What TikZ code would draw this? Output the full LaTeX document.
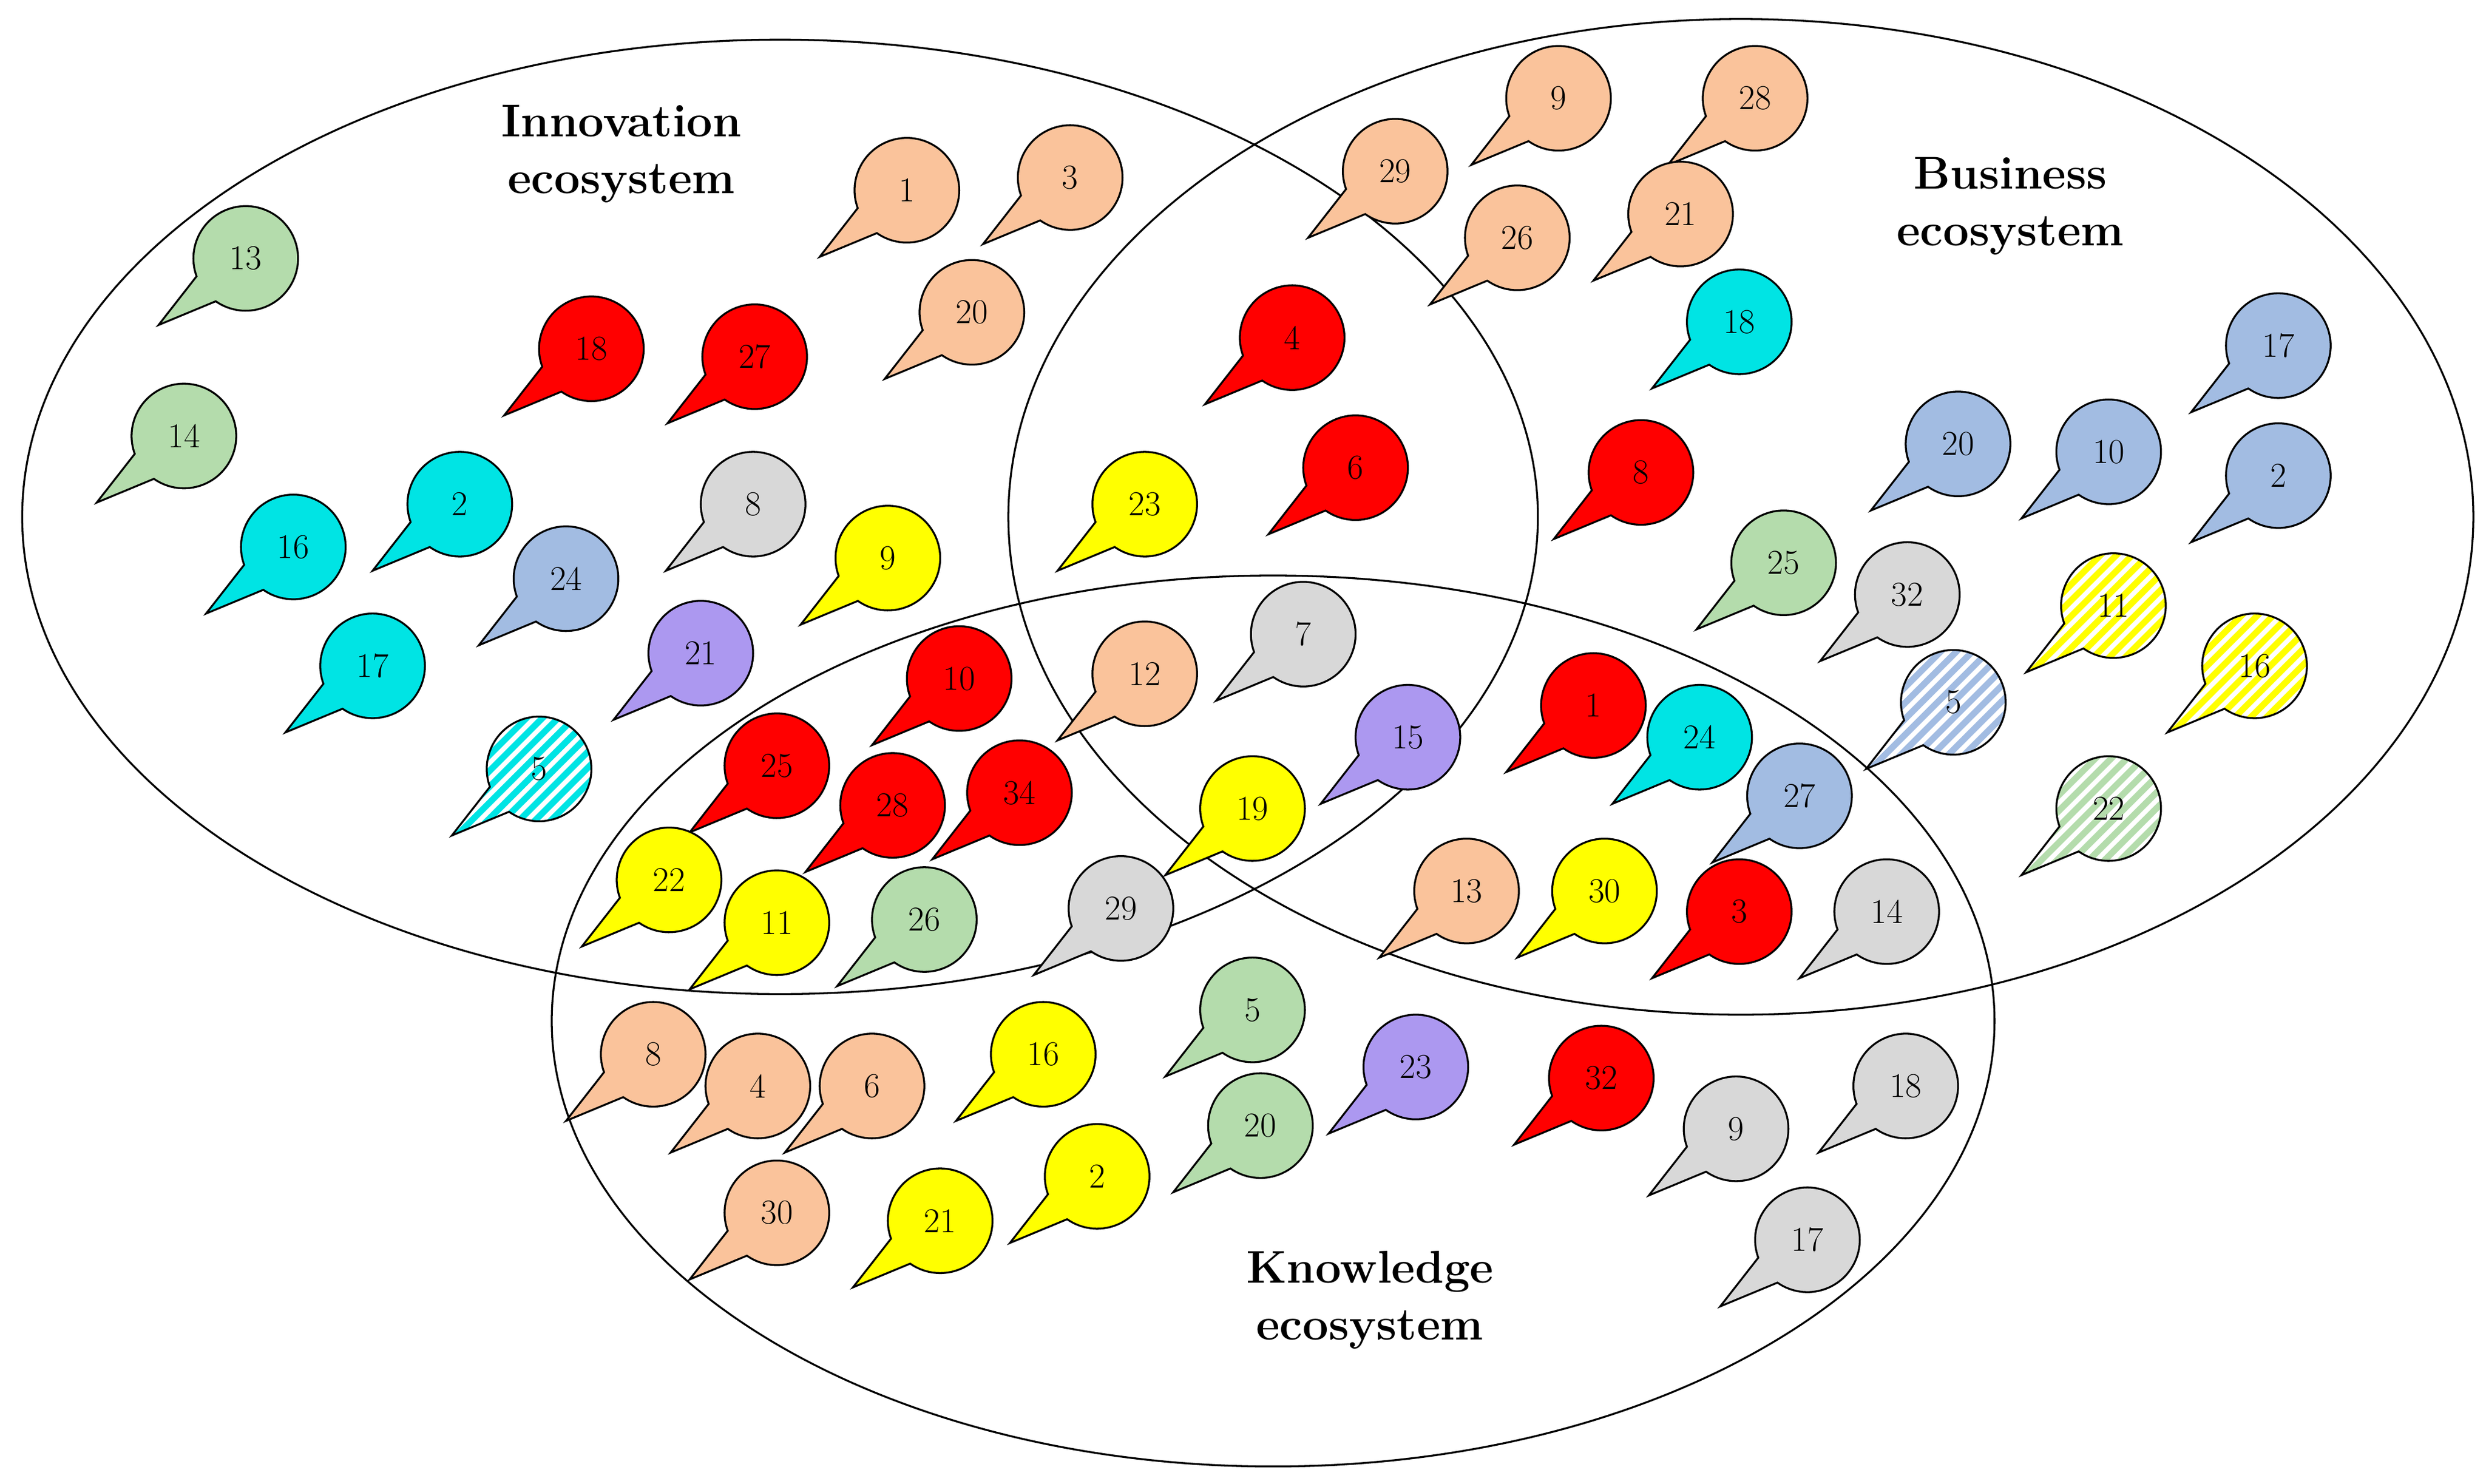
\documentclass[tikz,border=0pt]{standalone}
\begin{document}
\definecolor{cpe}{RGB}{250,195,155}
\definecolor{cre}{RGB}{255,0,0}
\definecolor{ccy}{RGB}{0,228,228}
\definecolor{cgr}{RGB}{180,220,172}
\definecolor{cbl}{RGB}{162,188,226}
\definecolor{cgy}{RGB}{216,216,216}
\definecolor{cpu}{RGB}{172,152,240}
\definecolor{cye}{RGB}{255,255,0}
\newcommand{\bubpath}[2]{([shift={(125:33)}]#1,#2) -- (#1-55,#2+42) -- ([shift={(160:33)}]#1,#2) arc (160:485:33) -- cycle}
\newcommand{\bub}[4]{%
  \draw[line width=1.2pt,fill=#3] \bubpath{#1}{#2};
  \node[font=\fontsize{22}{26}\selectfont] (n#1x#2) at (#1,#2) {#4};}
\newcommand{\hbub}[4]{%
  \fill[white] \bubpath{#1}{#2};
  \begin{scope}\clip \bubpath{#1}{#2};
   \foreach \i in {-9,...,9}{\draw[#3,line width=4pt] (#1+\i*10-60,#2+60) -- ++(120,-120);}
  \end{scope}
  \draw[line width=1.2pt] \bubpath{#1}{#2};
  \node[font=\fontsize{22}{26}\selectfont] (n#1x#2) at (#1,#2) {#4};}
\begin{tikzpicture}[x=1pt,y=-1pt,title/.style={font=\fontsize{29}{36}\selectfont\bfseries,align=center}]
\useasboundingbox (0,0) rectangle (1568,936);
\fill[white] (0,0) rectangle (1568,936);
\draw[line width=1.2pt] (492,326) ellipse [x radius=478,y radius=301];
\draw[line width=1.2pt] (1098,326) ellipse [x radius=462,y radius=314];
\draw[line width=1.2pt] (803,644) ellipse [x radius=455,y radius=281];
\node[title] (ti) at (392,97) {Innovation\\ecosystem};
\node[title] (tb) at (1268,130) {Business\\ecosystem};
\node[title] (tk) at (864,820) {Knowledge\\ecosystem};
% innovation
\bub{155}{163}{cgr}{13}
\bub{116}{275}{cgr}{14}
\bub{185}{345}{ccy}{16}
\bub{290}{318}{ccy}{2}
\bub{235}{420}{ccy}{17}
\bub{357}{365}{cbl}{24}
\bub{442}{412}{cpu}{21}
\hbub{340}{485}{ccy}{5}
\bub{373}{220}{cre}{18}
\bub{476}{225}{cre}{27}
\bub{475}{318}{cgy}{8}
\bub{560}{352}{cye}{9}
\bub{572}{120}{cpe}{1}
\bub{675}{112}{cpe}{3}
\bub{613}{197}{cpe}{20}
% innov-business
\bub{815}{213}{cre}{4}
\bub{855}{295}{cre}{6}
\bub{722}{318}{cye}{23}
% business
\bub{880}{108}{cpe}{29}
\bub{983}{62}{cpe}{9}
\bub{1107}{62}{cpe}{28}
\bub{957}{150}{cpe}{26}
\bub{1060}{135}{cpe}{21}
\bub{1097}{203}{ccy}{18}
\bub{1035}{298}{cre}{8}
\bub{1437}{218}{cbl}{17}
\bub{1235}{280}{cbl}{20}
\bub{1330}{285}{cbl}{10}
\bub{1437}{300}{cbl}{2}
\bub{1125}{355}{cgr}{25}
\bub{1203}{375}{cgy}{32}
\hbub{1333}{382}{cye}{11}
\hbub{1422}{420}{cye}{16}
\hbub{1232}{443}{cbl}{5}
\hbub{1330}{510}{cgr}{22}
% innov-knowledge
\bub{605}{428}{cre}{10}
\bub{490}{483}{cre}{25}
\bub{563}{508}{cre}{28}
\bub{643}{500}{cre}{34}
\bub{422}{555}{cye}{22}
\bub{490}{582}{cye}{11}
\bub{583}{580}{cgr}{26}
\bub{707}{573}{cgy}{29}
% triple
\bub{722}{425}{cpe}{12}
\bub{822}{400}{cgy}{7}
\bub{790}{510}{cye}{19}
\bub{888}{465}{cpu}{15}
% business-knowledge
\bub{1005}{445}{cre}{1}
\bub{1072}{465}{ccy}{24}
\bub{1135}{502}{cbl}{27}
\bub{925}{562}{cpe}{13}
\bub{1012}{562}{cye}{30}
\bub{1097}{575}{cre}{3}
\bub{1190}{575}{cgy}{14}
% knowledge
\bub{412}{665}{cpe}{8}
\bub{478}{685}{cpe}{4}
\bub{550}{685}{cpe}{6}
\bub{490}{765}{cpe}{30}
\bub{658}{665}{cye}{16}
\bub{593}{770}{cye}{21}
\bub{692}{742}{cye}{2}
\bub{790}{637}{cgr}{5}
\bub{795}{710}{cgr}{20}
\bub{893}{673}{cpu}{23}
\bub{1010}{680}{cre}{32}
\bub{1095}{712}{cgy}{9}
\bub{1202}{685}{cgy}{18}
\bub{1140}{782}{cgy}{17}
\end{tikzpicture}
\end{document}
